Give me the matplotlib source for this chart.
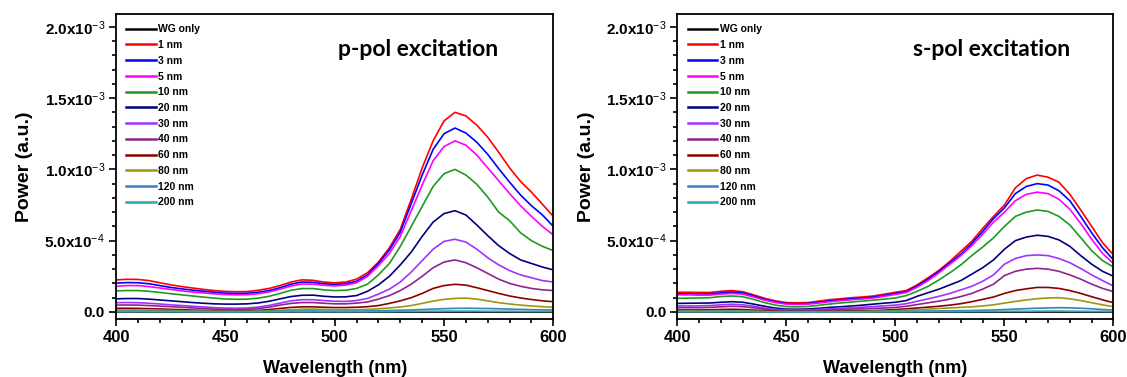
import numpy as np
import matplotlib
matplotlib.use("Agg")
import matplotlib.pyplot as plt
from matplotlib.ticker import MultipleLocator, FuncFormatter

# =========================================================
# Data (power in units of 1e-4 a.u., 5 nm steps 400 -> 600 nm)
# =========================================================
wavelength = np.arange(400, 601, 5)

labels = ["WG only", "1 nm", "3 nm", "5 nm", "10 nm", "20 nm", "30 nm",
          "40 nm", "60 nm", "80 nm", "120 nm", "200 nm"]
colors = ["#000000", "#FF0000", "#0000FF", "#FF00FF", "#1E9A1E", "#000080",
          "#A033FF", "#8E248E", "#8B0000", "#9C9610", "#3C7FC0", "#2AA9A9"]

# ---- p-pol excitation ----
p_wg = [0.0] * 41
p_1 = [2.25, 2.29, 2.28, 2.20, 2.05, 1.90, 1.78, 1.68, 1.58, 1.50, 1.44, 1.42, 1.43, 1.52,
       1.65, 1.85, 2.10, 2.25, 2.22, 2.10, 2.04, 2.10, 2.30, 2.75, 3.50, 4.50, 5.80, 7.90,
       10.1, 12.0, 13.4, 14.0, 13.75, 13.1, 12.25, 11.2, 10.1, 9.15, 8.4, 7.55, 6.7]
p_3 = [2.02, 2.06, 2.05, 1.98, 1.85, 1.72, 1.62, 1.53, 1.45, 1.38, 1.32, 1.30, 1.31, 1.38,
       1.50, 1.70, 1.95, 2.10, 2.08, 1.98, 1.93, 1.98, 2.15, 2.60, 3.40, 4.35, 5.60, 7.60,
       9.60, 11.4, 12.5, 12.9, 12.55, 11.9, 11.05, 10.05, 9.1, 8.2, 7.45, 6.8, 6.0]
p_5 = [1.80, 1.85, 1.85, 1.78, 1.68, 1.58, 1.48, 1.40, 1.33, 1.27, 1.22, 1.20, 1.21, 1.28,
       1.40, 1.60, 1.82, 1.96, 1.95, 1.87, 1.83, 1.88, 2.05, 2.50, 3.25, 4.10, 5.30, 7.10,
       8.90, 10.6, 11.6, 12.0, 11.7, 11.0, 10.1, 9.2, 8.3, 7.45, 6.7, 6.0, 5.4]
p_10 = [1.48, 1.50, 1.50, 1.45, 1.37, 1.28, 1.20, 1.12, 1.04, 0.97, 0.91, 0.89, 0.90, 0.97,
        1.10, 1.30, 1.52, 1.64, 1.64, 1.55, 1.50, 1.52, 1.65, 1.95, 2.60, 3.40, 4.60, 6.00,
        7.40, 8.80, 9.70, 10.0, 9.60, 8.95, 8.05, 7.0, 6.4, 5.55, 5.0, 4.6, 4.3]
p_20 = [0.92, 0.94, 0.94, 0.90, 0.84, 0.78, 0.72, 0.66, 0.61, 0.57, 0.55, 0.55, 0.57, 0.63,
        0.75, 0.92, 1.08, 1.17, 1.18, 1.10, 1.05, 1.06, 1.15, 1.45, 1.90, 2.50, 3.30, 4.20,
        5.30, 6.30, 6.90, 7.10, 6.80, 6.10, 5.35, 4.65, 4.10, 3.65, 3.40, 3.15, 2.95]
p_30 = [0.65, 0.66, 0.65, 0.61, 0.56, 0.50, 0.45, 0.40, 0.35, 0.30, 0.27, 0.26, 0.28, 0.34,
        0.46, 0.62, 0.78, 0.86, 0.86, 0.80, 0.75, 0.74, 0.80, 0.95, 1.25, 1.60, 2.10, 2.80,
        3.60, 4.40, 4.95, 5.10, 4.90, 4.40, 3.80, 3.30, 2.90, 2.60, 2.40, 2.20, 2.10]
p_40 = [0.48, 0.49, 0.48, 0.45, 0.41, 0.37, 0.33, 0.28, 0.24, 0.20, 0.17, 0.16, 0.18, 0.24,
        0.34, 0.48, 0.60, 0.66, 0.66, 0.61, 0.57, 0.57, 0.62, 0.70, 0.90, 1.15, 1.50, 1.95,
        2.50, 3.10, 3.50, 3.65, 3.45, 3.10, 2.70, 2.30, 2.00, 1.80, 1.65, 1.55, 1.50]
p_60 = [0.26, 0.26, 0.25, 0.23, 0.21, 0.18, 0.16, 0.13, 0.11, 0.09, 0.07, 0.07, 0.08, 0.11,
        0.17, 0.25, 0.32, 0.36, 0.36, 0.33, 0.31, 0.31, 0.33, 0.37, 0.45, 0.60, 0.78, 1.00,
        1.30, 1.65, 1.85, 1.94, 1.88, 1.70, 1.50, 1.30, 1.12, 0.98, 0.87, 0.78, 0.72]
p_80 = [0.14, 0.14, 0.14, 0.13, 0.11, 0.10, 0.08, 0.07, 0.05, 0.04, 0.03, 0.03, 0.04, 0.05,
        0.08, 0.12, 0.16, 0.19, 0.20, 0.18, 0.17, 0.16, 0.16, 0.18, 0.22, 0.28, 0.35, 0.45,
        0.60, 0.76, 0.88, 0.95, 0.97, 0.90, 0.78, 0.65, 0.56, 0.48, 0.42, 0.37, 0.33]
p_120 = [0.05, 0.05, 0.05, 0.05, 0.04, 0.04, 0.03, 0.03, 0.03, 0.02, 0.02, 0.02, 0.02, 0.03,
         0.04, 0.05, 0.06, 0.07, 0.07, 0.06, 0.06, 0.06, 0.06, 0.07, 0.08, 0.10, 0.12, 0.14,
         0.17, 0.20, 0.23, 0.25, 0.26, 0.25, 0.24, 0.22, 0.20, 0.18, 0.16, 0.15, 0.14]
p_200 = [0.02, 0.02, 0.02, 0.02, 0.02, 0.02, 0.02, 0.02, 0.02, 0.02, 0.02, 0.02, 0.02, 0.02,
         0.02, 0.02, 0.02, 0.02, 0.02, 0.02, 0.02, 0.02, 0.02, 0.02, 0.03, 0.03, 0.04, 0.04,
         0.05, 0.05, 0.06, 0.06, 0.06, 0.06, 0.05, 0.05, 0.05, 0.04, 0.04, 0.04, 0.04]

# ---- s-pol excitation ----
s_wg = [0.0] * 41
s_1 = [1.38, 1.38, 1.37, 1.37, 1.45, 1.50, 1.42, 1.20, 0.96, 0.78, 0.66, 0.64, 0.66, 0.76,
       0.86, 0.93, 1.00, 1.05, 1.12, 1.25, 1.38, 1.50, 1.90, 2.40, 2.92, 3.55, 4.25, 4.95,
       5.85, 6.70, 7.50, 8.70, 9.35, 9.60, 9.45, 9.10, 8.25, 7.15, 6.00, 4.85, 4.00]
s_3 = [1.27, 1.27, 1.26, 1.27, 1.34, 1.40, 1.33, 1.12, 0.88, 0.70, 0.59, 0.57, 0.59, 0.68,
       0.78, 0.85, 0.92, 0.97, 1.04, 1.16, 1.30, 1.42, 1.82, 2.30, 2.85, 3.45, 4.05, 4.80,
       5.65, 6.55, 7.30, 8.30, 8.80, 9.00, 8.90, 8.50, 7.80, 6.70, 5.55, 4.50, 3.65]
s_5 = [1.20, 1.20, 1.18, 1.18, 1.25, 1.30, 1.25, 1.05, 0.83, 0.66, 0.55, 0.53, 0.55, 0.63,
       0.72, 0.79, 0.86, 0.91, 0.98, 1.10, 1.23, 1.36, 1.74, 2.20, 2.75, 3.35, 3.95, 4.65,
       5.45, 6.30, 7.00, 7.80, 8.25, 8.40, 8.30, 7.90, 7.20, 6.20, 5.10, 4.10, 3.40]
s_10 = [0.95, 0.97, 0.98, 1.00, 1.08, 1.12, 1.07, 0.88, 0.66, 0.48, 0.38, 0.36, 0.39, 0.47,
        0.56, 0.63, 0.70, 0.76, 0.83, 0.90, 0.98, 1.15, 1.45, 1.80, 2.25, 2.75, 3.30, 3.95,
        4.55, 5.20, 6.00, 6.70, 7.00, 7.15, 7.05, 6.70, 6.10, 5.20, 4.30, 3.60, 3.15]
s_20 = [0.60, 0.61, 0.62, 0.63, 0.68, 0.72, 0.68, 0.55, 0.40, 0.27, 0.20, 0.19, 0.21, 0.26,
        0.32, 0.37, 0.42, 0.48, 0.55, 0.62, 0.68, 0.80, 1.10, 1.35, 1.60, 1.90, 2.20, 2.65,
        3.10, 3.65, 4.40, 5.00, 5.25, 5.38, 5.30, 5.05, 4.60, 3.95, 3.35, 2.85, 2.50]
s_30 = [0.42, 0.42, 0.43, 0.45, 0.50, 0.54, 0.50, 0.40, 0.28, 0.18, 0.14, 0.13, 0.14, 0.18,
        0.22, 0.26, 0.30, 0.34, 0.38, 0.43, 0.48, 0.58, 0.75, 0.92, 1.10, 1.30, 1.55, 1.80,
        2.15, 2.60, 3.35, 3.75, 3.95, 4.00, 3.95, 3.75, 3.45, 3.05, 2.60, 2.20, 1.82]
s_40 = [0.30, 0.30, 0.30, 0.32, 0.36, 0.40, 0.37, 0.29, 0.20, 0.12, 0.09, 0.08, 0.09, 0.11,
        0.14, 0.17, 0.20, 0.22, 0.25, 0.28, 0.32, 0.40, 0.52, 0.64, 0.76, 0.90, 1.08, 1.30,
        1.60, 1.95, 2.55, 2.85, 3.00, 3.06, 3.00, 2.85, 2.60, 2.30, 1.95, 1.65, 1.43]
s_60 = [0.14, 0.14, 0.14, 0.15, 0.17, 0.19, 0.17, 0.13, 0.09, 0.06, 0.04, 0.04, 0.04, 0.05,
        0.06, 0.07, 0.08, 0.09, 0.10, 0.13, 0.17, 0.22, 0.28, 0.34, 0.40, 0.48, 0.58, 0.72,
        0.88, 1.05, 1.30, 1.50, 1.62, 1.72, 1.72, 1.65, 1.50, 1.30, 1.07, 0.85, 0.65]
s_80 = [0.05, 0.05, 0.05, 0.05, 0.06, 0.07, 0.06, 0.04, 0.02, 0.00, -0.01, -0.02, -0.02, -0.01,
        0.00, 0.01, 0.02, 0.02, 0.04, 0.06, 0.09, 0.12, 0.16, 0.20, 0.24, 0.28, 0.32, 0.36,
        0.42, 0.50, 0.62, 0.74, 0.84, 0.93, 0.98, 1.00, 0.92, 0.80, 0.65, 0.50, 0.37]
s_120 = [0.03, 0.03, 0.03, 0.03, 0.03, 0.04, 0.03, 0.03, 0.02, 0.02, 0.02, 0.02, 0.02, 0.02,
         0.02, 0.02, 0.02, 0.02, 0.03, 0.03, 0.03, 0.04, 0.05, 0.06, 0.07, 0.08, 0.09, 0.10,
         0.12, 0.14, 0.17, 0.20, 0.23, 0.26, 0.28, 0.30, 0.29, 0.26, 0.22, 0.17, 0.13]
s_200 = [0.02, 0.02, 0.02, 0.02, 0.02, 0.02, 0.02, 0.02, 0.02, 0.02, 0.02, 0.02, 0.02, 0.02,
         0.02, 0.02, 0.02, 0.02, 0.02, 0.02, 0.02, 0.02, 0.02, 0.03, 0.03, 0.03, 0.03, 0.04,
         0.04, 0.04, 0.05, 0.05, 0.05, 0.06, 0.06, 0.06, 0.05, 0.05, 0.04, 0.04, 0.03]

p_series = [p_wg, p_1, p_3, p_5, p_10, p_20, p_30, p_40, p_60, p_80, p_120, p_200]
s_series = [s_wg, s_1, s_3, s_5, s_10, s_20, s_30, s_40, s_60, s_80, s_120, s_200]

# =========================================================
# Style
# =========================================================
plt.rcParams["font.family"] = "Liberation Sans"
plt.rcParams["mathtext.fontset"] = "custom"
plt.rcParams["mathtext.rm"] = "Liberation Sans"
plt.rcParams["mathtext.it"] = "Liberation Sans"
plt.rcParams["mathtext.bf"] = "Liberation Sans:bold"


def sci_fmt(v, pos):
    if abs(v) < 1e-12:
        return "0.0"
    exp = int(np.floor(np.log10(abs(v)) + 1e-9))
    m = v / 10 ** exp
    return f"{m:.1f}x10$^{{{exp}}}$"


def draw_panel(ax, series, title, title_x):
    for vals, lab, col in zip(series, labels, colors):
        ax.plot(wavelength, np.array(vals) * 1e-4, color=col, lw=1.2, label=lab)
    ax.set_xlim(400, 600)
    ax.set_ylim(-4.9e-5, 2.09e-3)
    ax.xaxis.set_major_locator(MultipleLocator(50))
    ax.xaxis.set_minor_locator(MultipleLocator(10))
    ax.yaxis.set_major_locator(MultipleLocator(5e-4))
    ax.yaxis.set_minor_locator(MultipleLocator(1e-4))
    ax.yaxis.set_major_formatter(FuncFormatter(sci_fmt))
    ax.tick_params(which="both", direction="out", top=False, right=False, width=1.2)
    ax.tick_params(which="major", length=5, pad=3)
    ax.tick_params(axis="x", which="major", labelsize=12)
    ax.tick_params(axis="y", which="major", labelsize=11)
    ax.tick_params(which="minor", length=3)
    for lbl in ax.get_xticklabels() + ax.get_yticklabels():
        lbl.set_fontweight("bold")
    for sp in ax.spines.values():
        sp.set_linewidth(1.3)
    ax.set_xlabel("Wavelength (nm)", fontsize=13, fontweight="bold", labelpad=11)
    ax.set_ylabel("Power (a.u.)", fontsize=14, fontweight="bold", labelpad=8)
    ax.text(title_x, 0.885, title, transform=ax.transAxes, ha="center", va="center",
            fontsize=16.5, fontweight="bold", family="Lato")
    leg = ax.legend(loc="upper left", frameon=False, prop={"size": 7.5, "weight": "bold"},
                    handlelength=2.8, handletextpad=0.25, labelspacing=0.55,
                    borderaxespad=0.6, borderpad=0.4)
    for line in leg.get_lines():
        line.set_linewidth(1.8)


fig = plt.figure(figsize=(11.27, 3.77), dpi=100)
ax1 = fig.add_axes([0.103, 0.154, 0.388, 0.809])
ax2 = fig.add_axes([0.601, 0.154, 0.387, 0.809])

draw_panel(ax1, p_series, "p-pol excitation", 0.69)
draw_panel(ax2, s_series, "s-pol excitation", 0.72)

fig.savefig("out.png", dpi=100)
